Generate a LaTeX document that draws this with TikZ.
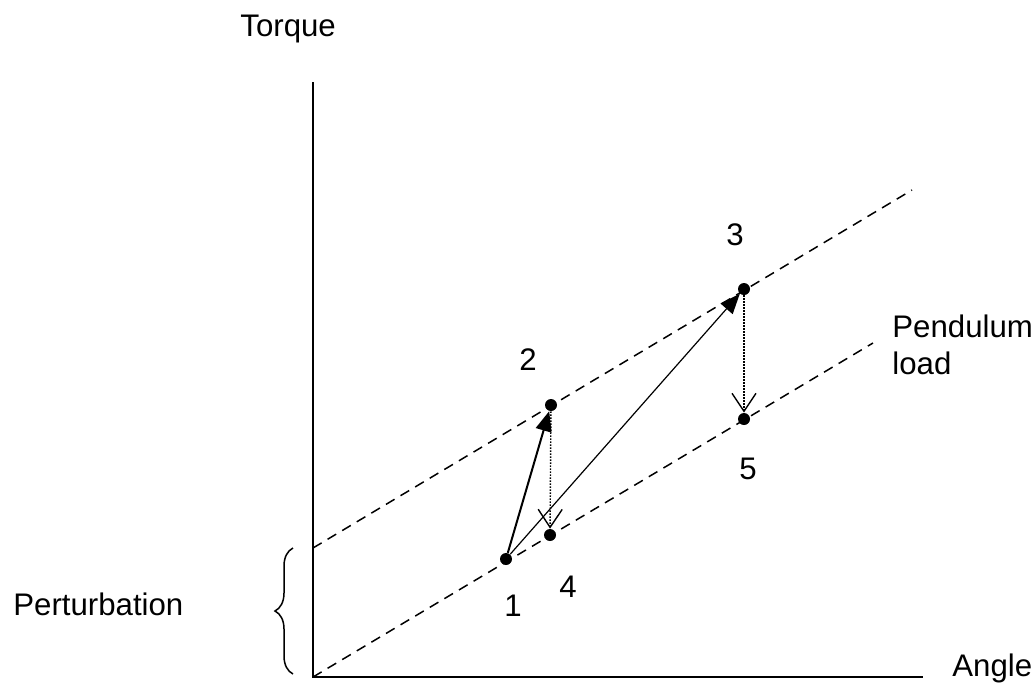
\documentclass[tikz,border=0pt]{standalone}
\usepackage{fontspec}
\setmainfont{Liberation Sans}
\usetikzlibrary{arrows.meta, positioning, decorations.pathreplacing}

\tikzset{
  lbl/.style={inner sep=0pt, font=\fontsize{15.6}{18.5}\selectfont},
  dot/.style={circle, fill=black, inner sep=0pt, minimum size=6pt},
  loadline/.style={line width=0.75pt, dash pattern=on 5pt off 3.5pt},
  jump/.style={line width=1pt, -{Triangle[length=10pt, width=8pt]}},
  slide/.style={line width=0.6pt, -{Triangle[length=10pt, width=8pt]}},
  drop/.style={line width=0.7pt, dash pattern=on 0.7pt off 0.8pt, -{Straight Barb[length=9pt, width=12pt, line width=0.7pt]}}
}

\begin{document}
\begin{tikzpicture}[x=0.5pt, y=-0.5pt]
  \useasboundingbox (0,0) rectangle (1035,682);
  % axes
  \coordinate (O) at (313,677);
  \coordinate (ytop) at (313,82);
  \coordinate (xend) at (923,677);
  \draw[line width=0.75pt] (ytop) -- (O) -- (xend);
  \node[lbl, anchor=base west] (torque) at (240,36) {Torque};
  \node[lbl, anchor=base west] (angle) at (952,676) {Angle};
  % load lines: pendulum load and shifted by the perturbation
  \coordinate (lowend) at (873,343);
  \coordinate (upstart) at (313,548);
  \coordinate (upend) at (912,190);
  \draw[loadline] (O) -- (lowend);
  \draw[loadline] (upstart) -- (upend);
  \node[lbl, anchor=north west, align=left] (pend) at (892,314) {Pendulum\\load};
  % perturbation brace
  \draw[line width=0.75pt, decorate, decoration={brace, amplitude=9pt}]
    (293,674) -- (293,548);
  \node[lbl, anchor=base west] (pert) at (13,615) {Perturbation};
  % operating points
  \node[dot] (p1) at (506,559) {};
  \node[dot] (p2) at (551,405) {};
  \node[dot] (p3) at (744,289) {};
  \node[dot] (p4) at (550,535) {};
  \node[dot] (p5) at (744,419) {};
  \node[lbl] (n1) at (513,606) {1};
  \node[lbl] (n2) at (528,360) {2};
  \node[lbl] (n3) at (735,235) {3};
  \node[lbl] (n4) at (568,587) {4};
  \node[lbl] (n5) at (748,469) {5};
  % transitions
  \draw[jump] (p1) -- (p2);
  \draw[slide] (p1) -- (p3);
  \draw[drop] (p2) -- (p4);
  \draw[drop] (p3) -- (p5);
\end{tikzpicture}
\end{document}
